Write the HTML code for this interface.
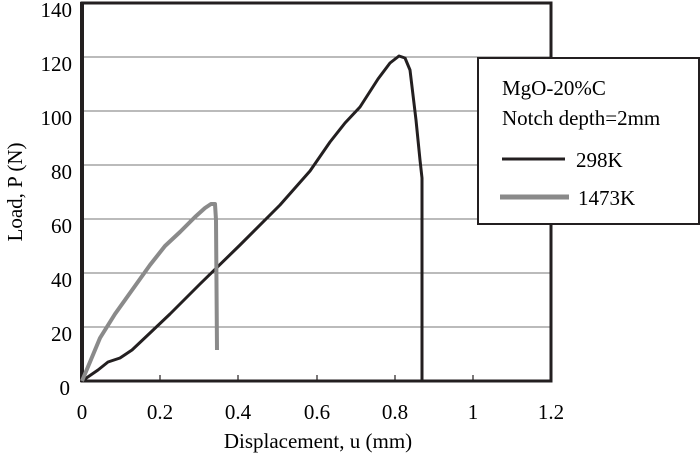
<!DOCTYPE html>
<html><head><style>body{margin:0;background:#fff}</style></head><body>
<svg width="700" height="455" xmlns="http://www.w3.org/2000/svg" font-family="Liberation Serif, serif" fill="#000">
<g stroke="#777" stroke-width="1">
<line x1="82" y1="57" x2="551" y2="57"/><line x1="82" y1="111" x2="551" y2="111"/>
<line x1="82" y1="165" x2="551" y2="165"/><line x1="82" y1="219" x2="551" y2="219"/>
<line x1="82" y1="273" x2="551" y2="273"/><line x1="82" y1="327" x2="551" y2="327"/>
</g>
<g stroke="#231f20" stroke-width="1.2">
<line x1="160" y1="381" x2="160" y2="375"/><line x1="238" y1="381" x2="238" y2="375"/><line x1="317" y1="381" x2="317" y2="375"/><line x1="395" y1="381" x2="395" y2="375"/><line x1="473" y1="381" x2="473" y2="375"/>
</g>
<rect x="82" y="3" width="469" height="378" fill="none" stroke="#231f20" stroke-width="3"/>
<line x1="82" y1="2" x2="82" y2="382" stroke="#231f20" stroke-width="4"/>
<polyline fill="none" stroke="#231f20" stroke-width="3" stroke-linejoin="round" points="82,381 98,370 108,362 120,358 132,350 150,333 170,314 200,284 240,245 280,205 310,171 330,142 345,123 360,107 378,79 390,63 399,56 405,58 410,70 416,120 420,160 422,178 422,381"/>
<polyline fill="none" stroke="#8a8a8a" stroke-width="4" stroke-linejoin="round" points="82,381 90,362 100,338 115,314 130,293 150,265 165,246 180,232 195,217 205,208 211,204 215,204 216,220 217,350"/>
<rect x="478" y="58" width="221" height="166" fill="#fff" stroke="#231f20" stroke-width="2"/>
<g font-size="21">
<text x="502" y="95">MgO-20%C</text>
<text x="502" y="125">Notch depth=2mm</text>
<text x="576" y="167">298K</text>
<text x="578" y="205">1473K</text>
</g>
<line x1="502" y1="159" x2="565" y2="159" stroke="#231f20" stroke-width="3"/>
<line x1="500" y1="197" x2="569" y2="197" stroke="#8a8a8a" stroke-width="5"/>
<g font-size="21" text-anchor="end">
<text x="72" y="17">140</text><text x="72" y="71">120</text><text x="72" y="125">100</text><text x="72" y="179">80</text><text x="72" y="233">60</text><text x="72" y="287">40</text><text x="72" y="341">20</text><text x="70" y="395">0</text>
</g>
<g font-size="21" text-anchor="middle">
<text x="82" y="419">0</text><text x="160" y="419">0.2</text><text x="238" y="419">0.4</text><text x="317" y="419">0.6</text><text x="395" y="419">0.8</text><text x="473" y="419">1</text><text x="551" y="419">1.2</text>
<text x="318" y="448">Displacement, u   (mm)</text>
<text transform="translate(22,192) rotate(-90)">Load, P (N)</text>
</g>
</svg>
</body></html>
